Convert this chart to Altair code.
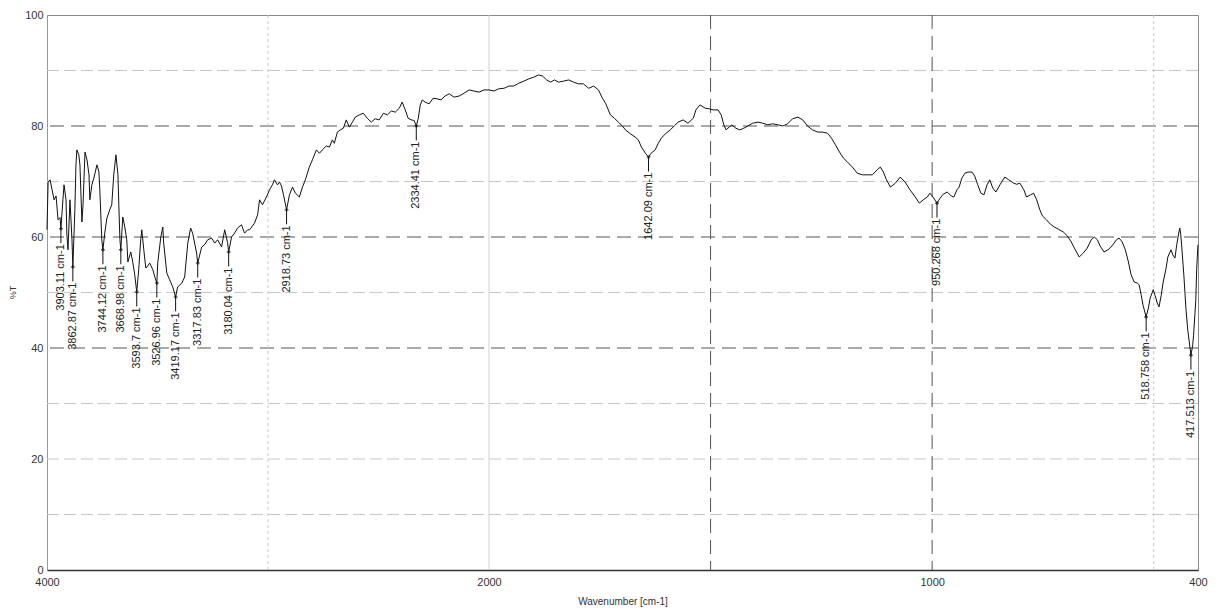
import altair as alt
import pandas as pd

# ---- spectrum (wavenumber cm-1, %T) ----
wavenumber = [
    4000, 3995, 3986, 3977, 3968, 3959, 3950, 3941, 3937, 3928, 3923, 3914, 3910, 3905, 3896, 3887,
    3883, 3874, 3869, 3865, 3856, 3851, 3842, 3837, 3828, 3819, 3810, 3806, 3797, 3788, 3774, 3765,
    3761, 3752, 3747, 3738, 3729, 3716, 3707, 3698, 3688, 3679, 3675, 3670, 3666, 3657, 3648, 3639,
    3634, 3621, 3612, 3603, 3594, 3585, 3576, 3571, 3562, 3553, 3548, 3535, 3521, 3512, 3503, 3499,
    3485, 3476, 3472, 3458, 3445, 3431, 3418, 3409, 3390, 3377, 3363, 3350, 3341, 3323, 3318, 3300,
    3287, 3273, 3255, 3241, 3228, 3210, 3196, 3183, 3178, 3165, 3151, 3138, 3120, 3106, 3092, 3083,
    3061, 3047, 3038, 3025, 3007, 2993, 2980, 2971, 2957, 2948, 2939, 2930, 2916, 2903, 2889, 2876,
    2858, 2844, 2831, 2813, 2799, 2781, 2767, 2754, 2736, 2722, 2709, 2700, 2686, 2673, 2659, 2646,
    2632, 2618, 2605, 2587, 2569, 2551, 2533, 2515, 2497, 2478, 2460, 2442, 2424, 2406, 2393, 2379,
    2366, 2352, 2339, 2329, 2320, 2311, 2302, 2289, 2271, 2253, 2235, 2217, 2199, 2180, 2158, 2135,
    2113, 2090, 2068, 2045, 2023, 2000,
    1989, 1978, 1966, 1955, 1944, 1933, 1921, 1910, 1899, 1888, 1879, 1870, 1861, 1852, 1843, 1831,
    1820, 1809, 1798, 1787, 1775, 1764, 1753, 1744, 1737, 1726, 1717, 1708, 1699, 1692, 1681, 1670,
    1663, 1656, 1647, 1640, 1634, 1625, 1618, 1611, 1602, 1591, 1582, 1573, 1562, 1551, 1539, 1533,
    1524, 1512, 1503, 1494, 1483, 1476, 1470, 1465, 1458, 1452, 1443, 1434, 1425, 1416, 1405, 1393,
    1382, 1371, 1360, 1348, 1337, 1326, 1315, 1303, 1292, 1281, 1270, 1258, 1247, 1236, 1227, 1218,
    1209, 1200, 1191, 1180, 1169, 1157, 1146, 1135, 1124, 1117, 1110, 1103, 1094, 1083, 1072, 1061,
    1050, 1038, 1029, 1020, 1011, 1005, 998, 989, 982, 975, 966, 957, 951, 944, 939, 933,
    926, 919, 910, 904, 897, 890, 883, 876, 870, 863, 856, 847, 836, 827, 816, 809,
    802, 793, 787, 778, 771, 764, 757, 751, 742, 733, 724, 715, 704, 695, 686, 679,
    668, 659, 650, 641, 634, 627, 621, 612, 603, 594, 584, 578, 571, 564, 557, 551,
    544, 537, 533, 528, 524, 517, 512, 508, 501, 497, 492, 488, 483, 479, 472, 468,
    461, 457, 452, 448, 443, 441, 439, 437, 432, 427, 423, 418, 416, 412, 410, 405,
    403, 400.5, 400,
]
transmittance = [
    61.3, 69.9, 70.3, 68.5, 66.7, 67.4, 63.1, 63.5, 61.5, 66.7, 69.4, 66.7, 60.4, 57.7, 66.7, 59.5,
    54.6, 64.9, 73.0, 75.7, 74.8, 73.0, 62.7, 65.8, 75.3, 73.9, 71.2, 66.7, 69.4, 70.6, 73.0, 71.7,
    68.5, 59.5, 57.7, 60.9, 63.4, 64.9, 65.8, 71.2, 74.8, 71.2, 65.8, 59.5, 57.7, 63.6, 61.8, 59.5,
    55.5, 57.3, 55.5, 53.2, 50.1, 54.1, 59.5, 61.3, 57.7, 54.4, 54.6, 55.3, 54.1, 52.8, 51.7, 55.3,
    60.0, 61.8, 58.9, 53.5, 52.3, 51.0, 49.2, 51.0, 51.7, 52.8, 58.9, 61.6, 60.7, 57.1, 55.3, 58.2,
    58.6, 59.5, 59.8, 58.9, 59.5, 58.2, 61.3, 59.0, 57.3, 60.0, 60.7, 61.6, 62.2, 60.7, 61.3, 61.3,
    62.5, 64.0, 66.7, 65.8, 67.2, 68.5, 69.4, 70.3, 69.4, 69.9, 69.2, 67.6, 64.9, 67.6, 69.0, 67.9,
    67.2, 69.0, 70.3, 72.6, 73.9, 75.7, 75.1, 75.7, 76.4, 76.2, 77.5, 76.9, 78.9, 79.3, 79.6, 81.1,
    79.8, 80.7, 81.6, 82.0, 82.3, 81.4, 80.7, 81.3, 81.1, 82.3, 82.0, 82.7, 82.5, 83.2, 84.3, 82.9,
    81.4, 81.1, 81.0, 80.0, 81.4, 83.8, 84.7, 84.3, 84.0, 85.0, 84.9, 84.7, 85.4, 85.8, 85.2, 85.4,
    85.9, 86.5, 86.3, 86.1, 86.5, 86.5,
    86.3, 86.7, 86.8, 87.2, 87.2, 87.7, 88.1, 88.5, 88.8, 89.2, 89.0, 88.3, 87.9, 88.3, 87.9, 88.1,
    88.3, 87.9, 87.6, 87.6, 86.8, 87.2, 86.5, 85.0, 84.1, 82.0, 81.4, 80.7, 80.0, 79.3, 78.6, 78.0,
    77.5, 76.2, 75.1, 74.4, 75.1, 75.7, 76.9, 77.8, 78.6, 79.3, 80.0, 80.7, 81.1, 80.5, 81.4, 82.9,
    83.8, 83.2, 83.1, 82.9, 82.9, 82.0, 80.2, 79.3, 79.8, 80.2, 79.6, 79.3, 79.6, 80.0, 80.5, 80.7,
    80.5, 80.2, 80.4, 80.2, 80.0, 80.4, 81.3, 81.6, 81.1, 80.0, 79.3, 78.9, 78.9, 78.7, 77.8, 76.6,
    75.3, 74.2, 73.5, 72.6, 71.5, 71.2, 71.2, 71.2, 72.1, 72.6, 71.7, 70.3, 69.0, 69.7, 70.8, 69.9,
    68.5, 67.2, 66.1, 66.7, 67.2, 67.9, 67.2, 66.1, 67.0, 67.7, 68.1, 67.4, 67.2, 68.5, 69.0, 70.6,
    71.5, 71.7, 71.7, 71.0, 69.4, 67.9, 67.6, 69.4, 70.3, 68.8, 68.1, 69.4, 70.8, 70.3, 69.7, 69.5,
    69.7, 68.5, 67.2, 67.6, 67.9, 66.7, 64.9, 63.8, 63.1, 62.3, 61.8, 61.4, 60.9, 60.2, 59.1, 58.0,
    56.4, 57.1, 58.0, 59.5, 60.0, 59.5, 58.4, 57.3, 57.7, 58.4, 59.5, 59.8, 59.1, 57.7, 55.5, 53.2,
    51.9, 51.7, 51.4, 49.5, 47.7, 45.6, 47.2, 49.0, 50.5, 49.5, 48.1, 47.4, 49.5, 51.7, 54.4, 56.4,
    57.7, 56.8, 56.2, 58.6, 60.9, 61.6, 60.5, 58.6, 53.2, 46.8, 43.2, 40.0, 38.7, 40.5, 42.3, 48.6,
    54.1, 58.0, 58.6,
]

# ---- peak annotations ----
peak_wn = [3937, 3883, 3747, 3666, 3594, 3503, 3418, 3318, 3178, 2916, 2329, 1640, 989, 517, 416]
peak_t = [61.5, 54.6, 57.7, 57.7, 50.1, 51.7, 49.2, 55.3, 57.3, 64.9, 80.0, 74.4, 66.1, 45.6, 38.7]
peak_text = ["3903.11 cm-1", "3862.87 cm-1", "3744.12 cm-1", "3668.98 cm-1", "3593.7 cm-1",
             "3526.96 cm-1", "3419.17 cm-1", "3317.83 cm-1", "3180.04 cm-1", "2918.73 cm-1",
             "2334.41 cm-1", "1642.09 cm-1", "950.268 cm-1", "518.758 cm-1", "417.513 cm-1"]

# ---- grid and tick values ----
grid_y_dark = [40, 60, 80]
grid_y_light = [10, 20, 30, 50, 70, 90]
grid_x_dark = [1500, 1000]
grid_x_light = [3000, 500]
grid_x_solid = [2000]
x_tick_values = [4000, 2000, 1000, 400]
y_tick_values = [0, 20, 40, 60, 80, 100]

spec = pd.DataFrame({"wn": wavenumber, "t": transmittance})
spec["order"] = range(len(spec))
peaks = pd.DataFrame({"wn": peak_wn, "t": peak_t, "label": peak_text})

FONT = "Liberation Sans"
xscale = alt.Scale(domain=[4000, 2000, 400], range=[0, 442, 1151], nice=False, zero=False)
yscale = alt.Scale(domain=[0, 100], nice=False, zero=False)

x_axis = alt.Axis(
    values=x_tick_values, format="d", title="Wavenumber [cm-1]", grid=False, ticks=False,
    labelFlush=False, labelFont=FONT, labelFontSize=11, labelColor="#333333",
    labelPadding=6, titleFont=FONT, titleFontSize=10, titleFontWeight="normal",
    titleColor="#333333", titleY=31, titleBaseline="middle",
    domainColor="#333333", domainWidth=1.5, labelOverlap=False,
)
y_axis = alt.Axis(
    values=y_tick_values, format="d", title="%T", grid=False, ticks=False,
    labelFont=FONT, labelFontSize=11, labelColor="#333333", labelPadding=4,
    titleFont=FONT, titleFontSize=9, titleFontWeight="normal", titleColor="#333333",
    titleX=-35, titleY=277, titleAlign="center", titleBaseline="middle",
    domainColor="#999999", labelFlush=False,
)


def X(field):
    return alt.X(field, scale=xscale, axis=x_axis)


def Y(field):
    return alt.Y(field, scale=yscale, axis=y_axis)


def hrules(values, color, dash, width=1):
    return alt.Chart(pd.DataFrame({"t": values})).mark_rule(
        color=color, strokeDash=dash, strokeWidth=width
    ).encode(y=Y("t:Q"))


def vrules(values, color, dash, width=1):
    return alt.Chart(pd.DataFrame({"wn": values})).mark_rule(
        color=color, strokeDash=dash, strokeWidth=width
    ).encode(x=X("wn:Q"))


grid = (
    hrules(grid_y_light, "#c8c8c8", [12, 5])
    + hrules(grid_y_dark, "#555555", [14, 7])
    + vrules(grid_x_light, "#c8c8c8", [3, 3])
    + vrules(grid_x_solid, "#d0d0d0", [1, 0])
    + vrules(grid_x_dark, "#555555", [14, 7])
)

line = alt.Chart(spec).mark_line(color="#111111", strokeWidth=1).encode(
    x=X("wn:Q"),
    y=Y("t:Q"),
    order="order:Q",
)

ann_base = alt.Chart(peaks).transform_calculate(
    t_end="datum.t - 2.6", t_text="datum.t - 2.8"
)

ann_rule = ann_base.mark_rule(color="#111111", strokeWidth=1).encode(
    x=X("wn:Q"),
    y=Y("t:Q"),
    y2="t_end:Q",
)
ann_mark = ann_base.mark_point(shape="cross", filled=True, size=14, color="#111111").encode(
    x=X("wn:Q"),
    y=Y("t:Q"),
)
ann_text = ann_base.mark_text(
    angle=270, align="right", baseline="middle", font=FONT, fontSize=11, color="#222222"
).encode(
    x=X("wn:Q"),
    y=Y("t_text:Q"),
    text="label:N",
)

chart = (
    alt.layer(grid, line, ann_rule, ann_mark, ann_text)
    .properties(
        width=1151,
        height=555,
        autosize=alt.AutoSizeParams(type="none"),
        padding={"left": 39, "top": 7, "right": 11, "bottom": 41},
        background="white",
    )
    .configure_view(stroke="#888888", strokeWidth=1)
)

chart.save("out.html", embed_options={"renderer": "svg", "actions": False})
